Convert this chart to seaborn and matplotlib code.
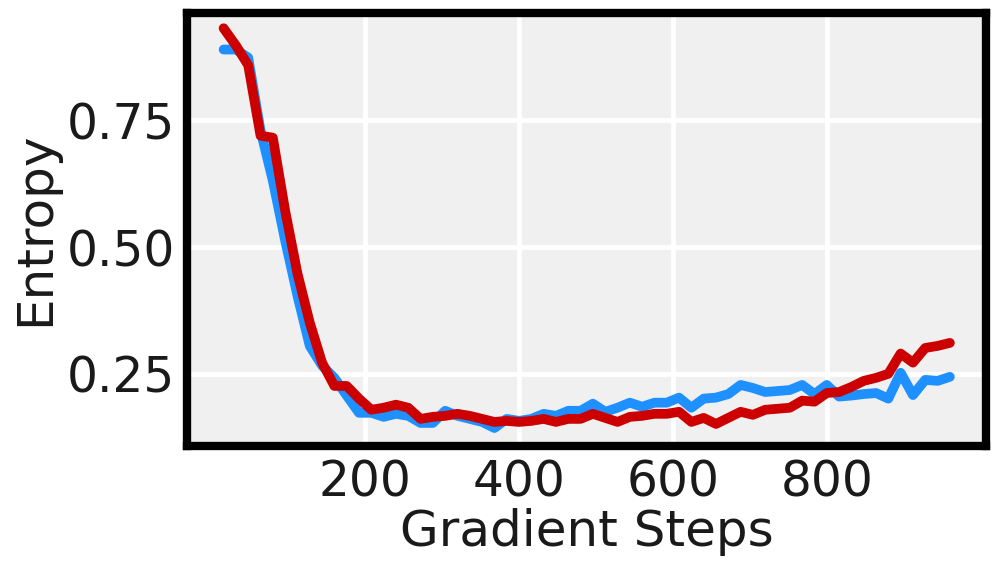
import numpy as np
import pandas as pd
import matplotlib
matplotlib.use("Agg")
import matplotlib.pyplot as plt
import seaborn as sns

# gradient steps (16 .. 960)
steps = list(range(16, 961, 16))

entropy_blue = [0.890, 0.890, 0.874, 0.730, 0.631, 0.513, 0.404, 0.305, 0.266, 0.242,
                0.207, 0.173, 0.173, 0.165, 0.171, 0.167, 0.153, 0.153, 0.177, 0.167,
                0.161, 0.155, 0.143, 0.161, 0.157, 0.161, 0.171, 0.167, 0.177, 0.177,
                0.191, 0.175, 0.183, 0.193, 0.185, 0.193, 0.193, 0.203, 0.183, 0.201,
                0.203, 0.210, 0.228, 0.222, 0.214, 0.216, 0.218, 0.228, 0.210, 0.228,
                0.205, 0.207, 0.210, 0.212, 0.201, 0.252, 0.208, 0.238, 0.236, 0.244]

entropy_red = [0.932, 0.898, 0.859, 0.720, 0.716, 0.572, 0.448, 0.351, 0.272, 0.226,
               0.226, 0.201, 0.179, 0.183, 0.189, 0.183, 0.161, 0.165, 0.167, 0.171,
               0.167, 0.161, 0.155, 0.157, 0.155, 0.157, 0.161, 0.155, 0.161, 0.161,
               0.171, 0.163, 0.155, 0.165, 0.167, 0.171, 0.171, 0.175, 0.155, 0.163,
               0.151, 0.163, 0.175, 0.169, 0.179, 0.181, 0.183, 0.197, 0.195, 0.212,
               0.214, 0.224, 0.236, 0.242, 0.250, 0.290, 0.272, 0.301, 0.305, 0.311]

xticks = [200, 400, 600, 800]
yticks = [0.25, 0.50, 0.75]

df = pd.DataFrame({
    "step": steps * 2,
    "entropy": entropy_blue + entropy_red,
    "run": ["blue"] * len(steps) + ["red"] * len(steps),
})

sns.set_style("darkgrid", {"axes.facecolor": "#F0F0F0", "grid.color": "white"})
plt.rcParams['font.family'] = ['DejaVu Sans']

fig, ax = plt.subplots(figsize=(9.97, 5.7), dpi=100)
fig.subplots_adjust(left=0.188, right=0.989, bottom=0.218, top=0.978)

sns.lineplot(data=df, x="step", y="entropy", hue="run",
             palette={"blue": "#1E90FF", "red": "#CC0000"},
             linewidth=7, legend=False, ax=ax)

ax.set_xlim(-31, 1007)
ax.set_ylim(0.108, 0.963)
ax.set_xticks(xticks)
ax.set_yticks(yticks)
ax.set_yticklabels(["%.2f" % v for v in yticks])
ax.grid(True, color="white", linewidth=3.5)

for s in ax.spines.values():
    s.set_visible(True)
    s.set_color("black")
    s.set_linewidth(6)

ax.tick_params(axis="both", which="major", labelsize=35, length=7, width=5,
               color="black", pad=2, labelcolor="#1a1a1a")
ax.set_xlabel("Gradient Steps", fontsize=36, color="#1a1a1a", labelpad=1)
ax.set_ylabel("Entropy", fontsize=36, color="#1a1a1a", labelpad=5)

fig.savefig("out.png", dpi=100)
